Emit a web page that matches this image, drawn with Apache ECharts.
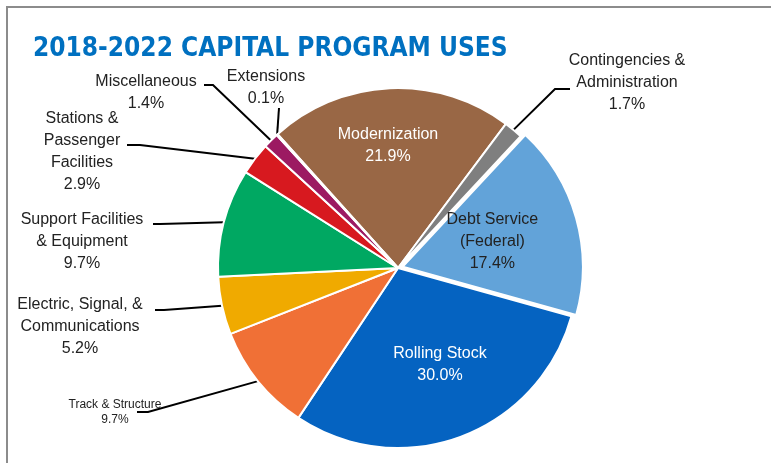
<!DOCTYPE html>
<html>
<head>
<meta charset="utf-8">
<script src="https://cdn.jsdelivr.net/npm/echarts@6/dist/echarts.min.js"></script>
<style>
  html, body { margin: 0; padding: 0; background: #fff; }
  #chart { width: 771px; height: 463px; }
</style>
</head>
<body>
<div id="chart"></div>
<script>
// slices, clockwise from the left edge of Modernization
const names = [
  "Modernization",
  "Contingencies &\nAdministration",
  "Debt Service\n(Federal)",
  "Rolling Stock",
  "Track & Structure",
  "Electric, Signal, &\nCommunications",
  "Support Facilities\n& Equipment",
  "Stations &\nPassenger\nFacilities",
  "Miscellaneous",
  "Extensions"
];
const shares = [21.9, 1.7, 17.4, 30.0, 9.7, 5.2, 9.7, 2.9, 1.4, 0.1];
const colors = ["#996745", "#7f7f7f", "#62a3d9", "#0563c1", "#f07036",
                "#f0aa00", "#00a862", "#d7191f", "#9c1a62", "#f2b8c6"];

// label placement: [x, y] of text centre, then elbow and end of the leader line
const labelSpots = [
  { at: [388, 146], inside: true, color: "#fff" },
  { at: [627, 83], elbow: [555, 89], end: [570, 89] },
  { at: [498, 241], inside: true, color: "#222" },
  { at: [440, 365], inside: true, color: "#fff" },
  { at: [115, 412], elbow: [148, 412], end: [137, 412], small: true },
  { at: [80, 327], elbow: [164, 310], end: [155, 310] },
  { at: [82, 242], elbow: [160, 224], end: [153, 224] },
  { at: [82, 152], elbow: [140, 145], end: [127, 145] },
  { at: [146, 93], elbow: [213, 85], end: [204, 85] },
  { at: [266, 88], elbow: [279, 108], end: [279, 108] }
];

const FONT = "'Liberation Sans', Arial, sans-serif";

const pieData = names.map((n, i) => {
  const spot = labelSpots[i];
  const item = {
    name: n,
    value: shares[i],
    itemStyle: { color: colors[i] },
    label: {
      position: spot.inside ? "inside" : "outside",
      color: spot.color || "#222",
      fontSize: spot.small ? 12 : 16,
      lineHeight: spot.small ? 15 : 22
    },
    labelLine: { show: !spot.inside }
  };
  if (i === 2) {
    item.selected = true;
    item.select = { itemStyle: { color: colors[i] }, label: { color: "#222" } };
  }
  return item;
});

const chart = echarts.init(document.getElementById("chart"), null, { renderer: "canvas" });

chart.setOption({
  animation: false,
  title: {
    text: "2018-2022 CAPITAL PROGRAM USES",
    left: 28,
    top: 31,
    textStyle: {
      fontFamily: "'DejaVu Sans Condensed', Arial, sans-serif",
      fontWeight: "bold",
      fontSize: 26,
      color: "#0070c0"
    }
  },
  graphic: [
    { type: "line", shape: { x1: 6, y1: 7, x2: 771, y2: 7 }, style: { stroke: "#8c8c8c", lineWidth: 2 } },
    { type: "line", shape: { x1: 7, y1: 7, x2: 7, y2: 463 }, style: { stroke: "#8c8c8c", lineWidth: 2 } }
  ],
  series: [{
    type: "pie",
    center: [398, 268],
    radius: 180,
    startAngle: 132,
    clockwise: true,
    avoidLabelOverlap: false,
    selectedMode: "single",
    selectedOffset: 5,
    itemStyle: { borderColor: "#fff", borderWidth: 2 },
    emphasis: { disabled: true },
    label: {
      fontFamily: FONT,
      formatter: p => p.name + "\n" + p.value.toFixed(1) + "%"
    },
    labelLine: { lineStyle: { color: "#000", width: 2 }, length: 10, length2: 10 },
    labelLayout: function (params) {
      const spot = labelSpots[params.dataIndex];
      const out = { x: spot.at[0], y: spot.at[1], align: "center", verticalAlign: "middle" };
      if (!spot.inside && params.labelLinePoints) {
        out.labelLinePoints = [params.labelLinePoints[0], spot.elbow, spot.end];
      }
      return out;
    },
    data: pieData
  }]
});
</script>
</body>
</html>
